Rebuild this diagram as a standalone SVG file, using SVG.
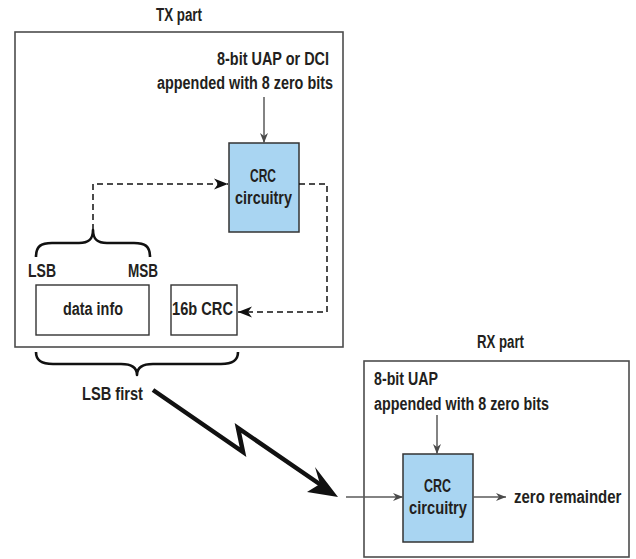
<svg xmlns="http://www.w3.org/2000/svg" width="636" height="559" viewBox="0 0 636 559">
  <defs>
    <marker id="arrGray" markerUnits="userSpaceOnUse" markerWidth="11" markerHeight="9" refX="10" refY="4.5" orient="auto">
      <path d="M0,0.5 L10,4.5 L0,8.5 L3,4.5 z" fill="#4a4a4a"/>
    </marker>
    <marker id="arrDash" markerUnits="userSpaceOnUse" markerWidth="15" markerHeight="12" refX="14" refY="6" orient="auto">
      <path d="M0,0.5 L14,6 L0,11.5 L4,6 z" fill="#111"/>
    </marker>
  </defs>
  <style>
    text { font-family: "Liberation Sans", Arial, sans-serif; font-weight: bold; font-size: 17.5px; fill: #231f20; }
    .frame { fill: #fff; stroke: #4d4d4d; stroke-width: 1.6; }
    .field { fill: #fff; stroke: #333; stroke-width: 1.4; }
    .crc { fill: #a9d5f2; stroke: #333; stroke-width: 1.5; }
    .feed { fill: none; stroke: #5a5a5a; stroke-width: 1.5; marker-end: url(#arrGray); }
    .dash { fill: none; stroke: #111; stroke-width: 1.5; stroke-dasharray: 6 4; }
    .brace { fill: none; stroke: #111; stroke-width: 2.6; stroke-linejoin: round; }
  </style>
  <rect width="636" height="559" fill="#fff"/>

  <!-- Transmitter -->
  <g id="tx-part">
    <text x="156" y="21" textLength="46" lengthAdjust="spacingAndGlyphs">TX part</text>
    <rect class="frame" x="15" y="32" width="328" height="315"/>
    <text x="217" y="65" textLength="112" lengthAdjust="spacingAndGlyphs">8-bit UAP or DCI</text>
    <text x="157" y="89" textLength="176" lengthAdjust="spacingAndGlyphs">appended with 8 zero bits</text>
  </g>

  <g id="tx-crc">
    <rect class="crc" x="229" y="143" width="70" height="89"/>
    <text x="250" y="182" textLength="26" lengthAdjust="spacingAndGlyphs">CRC</text>
    <text x="235" y="204" textLength="57" lengthAdjust="spacingAndGlyphs">circuitry</text>
  </g>

  <g id="data-info">
    <text x="28" y="277" textLength="28" lengthAdjust="spacingAndGlyphs">LSB</text>
    <text x="128" y="277" textLength="30" lengthAdjust="spacingAndGlyphs">MSB</text>
    <rect class="field" x="36" y="285" width="113" height="50"/>
    <text x="63" y="315" textLength="60" lengthAdjust="spacingAndGlyphs">data info</text>
  </g>

  <g id="crc-field">
    <rect class="field" x="171" y="285" width="66" height="50"/>
    <text x="172" y="315" textLength="61" lengthAdjust="spacingAndGlyphs">16b CRC</text>
  </g>

  <g id="lsb-first">
    <text x="82" y="400" textLength="61" lengthAdjust="spacingAndGlyphs">LSB first</text>
  </g>

  <!-- Receiver -->
  <g id="rx-part">
    <text x="477" y="348" textLength="47" lengthAdjust="spacingAndGlyphs">RX part</text>
    <rect class="frame" x="364" y="361" width="265" height="196"/>
    <text x="374" y="385" textLength="64" lengthAdjust="spacingAndGlyphs">8-bit UAP</text>
    <text x="374" y="410" textLength="175" lengthAdjust="spacingAndGlyphs">appended with 8 zero bits</text>
  </g>

  <g id="rx-crc">
    <rect class="crc" x="403" y="454" width="70" height="88"/>
    <text x="424" y="492" textLength="27" lengthAdjust="spacingAndGlyphs">CRC</text>
    <text x="409" y="514" textLength="58" lengthAdjust="spacingAndGlyphs">circuitry</text>
  </g>

  <g id="zero-remainder">
    <!-- condensed horizontally so the label stays inside the RX frame -->
    <text transform="translate(514,503) scale(0.82,1)" x="0" y="0" textLength="131" lengthAdjust="spacingAndGlyphs">zero remainder</text>
  </g>

  <!-- Connectors -->
  <g id="connectors">
    <line class="feed" x1="264" y1="97" x2="264" y2="143"/>
    <line class="feed" x1="437" y1="415" x2="437" y2="454"/>
    <line class="feed" x1="346" y1="497" x2="403" y2="497"/>
    <line class="feed" x1="473" y1="497" x2="506" y2="497"/>

    <path class="dash" d="M93,230 V184 H228" marker-end="url(#arrDash)"/>
    <path class="dash" d="M299,184 H327 V312 H238" marker-end="url(#arrDash)"/>

    <path class="brace" d="M36,257 C36,246 41,243 52,243 L79,243 C88,243 93,240 93,230 C93,240 98,243 107,243 L134,243 C145,243 150,246 150,257"/>
    <path class="brace" d="M36,352 C36,361 42,364 53,364 L121,364 C131,364 137,367 137,375 C137,367 143,364 153,364 L221,364 C232,364 238,361 238,352"/>

    <polyline points="153,390 243,452 238,428 321,485" fill="none" stroke="#111" stroke-width="4.5" stroke-linejoin="miter"/>
    <polygon points="338,497 315,467 320,484 307,492" fill="#111"/>
  </g>
</svg>
